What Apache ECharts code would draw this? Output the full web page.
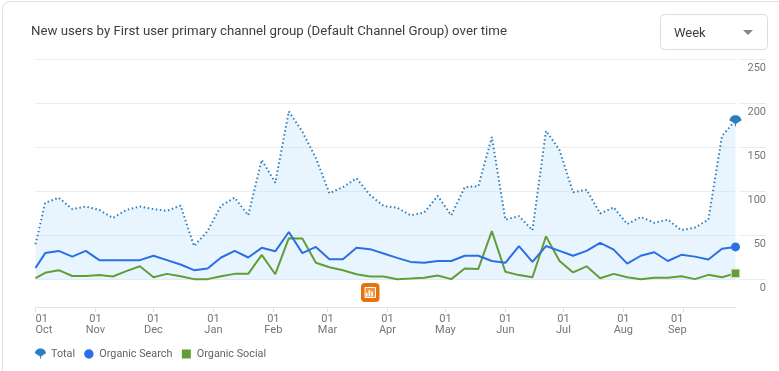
<!DOCTYPE html>
<html><head><meta charset="utf-8">
<style>
html,body{margin:0;padding:0;background:#fff;overflow:hidden}
#card{position:absolute;left:2px;top:1px;width:800px;height:400px;border:1px solid #dfe1e5;border-radius:8px;box-sizing:border-box}
#c{position:absolute;left:0;top:0;width:779px;height:371px}
</style>
<script src="https://cdn.jsdelivr.net/npm/echarts@6/dist/echarts.min.js"></script>
</head><body><div id="card"></div><div id="c"></div>
<script>
const weeks=['2022-10-01','2022-10-06','2022-10-13','2022-10-20','2022-10-27','2022-11-03','2022-11-10','2022-11-17','2022-11-24','2022-12-01','2022-12-08','2022-12-15','2022-12-22','2022-12-29','2023-01-05','2023-01-12','2023-01-19','2023-01-26','2023-02-02','2023-02-09','2023-02-16','2023-02-23','2023-03-02','2023-03-09','2023-03-16','2023-03-23','2023-03-30','2023-04-06','2023-04-13','2023-04-20','2023-04-27','2023-05-04','2023-05-11','2023-05-18','2023-05-25','2023-06-01','2023-06-08','2023-06-15','2023-06-22','2023-06-29','2023-07-06','2023-07-13','2023-07-20','2023-07-27','2023-08-03','2023-08-10','2023-08-17','2023-08-24','2023-08-31','2023-09-07','2023-09-14','2023-09-21','2023-09-28'];
const total=[40,87,93,80,83,79,70,79,83,80,78,84,38,55,84,93,73,136,110,191,168,138,98,105,115,96,83.5,81.6,73,76,95,73,105,106,162,68,72,56,169,147,99,102,75,82,63,71,64.5,68,56,59,68,163,181];
const organicSearch=[13,30,32.5,26,32.5,22,22,22,22,27,22,17,10.6,12.5,25,32.5,25,36,32,54,30,37,23,23,36,34.5,29.5,24.6,20,19,21,21,27,27,21,19,38,20,38,32.5,27,32.5,41.6,34,18,27,31,21,28,26,22.7,35,37];
const organicSocial=[1.5,7.6,10.6,4,4,5,3.4,9.5,15,2.6,6.4,3.8,0.4,0.4,3.8,6.4,6.4,28,6,47,46.6,19,14,10.6,6,3.4,3.4,0.4,1,2,4.5,0.4,12.5,12,55,8.7,5,2.6,49,21,8,15,1.5,6.4,2.6,0.4,2,2,3.8,0.4,5.3,2.6,7];
const tickDates=['2022-10-01','2022-11-01','2022-12-01','2023-01-01','2023-02-01','2023-03-01','2023-04-01','2023-05-01','2023-06-01','2023-07-01','2023-08-01','2023-09-01'];
const tickMonths=['Oct','Nov','Dec','Jan','Feb','Mar','Apr','May','Jun','Jul','Aug','Sep'];
const seriesNames=['Total','Organic Search','Organic Social'];
const colors=['#2b7fc0','#2a6fe6','#639d37'];
const fanIcon='path://M0 5.5 C0 2 3 0 6 0 C9 0 12 2 12 5.5 C10.5 5.8 9.5 6.5 8.5 7.5 L7 8 L6 12 L5 8 L3.5 7.5 C2.5 6.5 1.5 5.8 0 5.5 Z';

const chart=echarts.init(document.getElementById('c'),null,{renderer:'canvas'});
const parse=s=>+echarts.time.parse(s);
const tickVals=tickDates.map(parse);
const weekVals=weeks.map(parse);
const pairs=a=>a.map((v,i)=>[weekVals[i],v]);
const endOnly=n=>(v,p)=>p.dataIndex===weeks.length-1?n:0;
const font='Roboto, Arial, sans-serif';
const bars=[[5,10,1.6,3.5],[7.6,7,1.6,6.5],[10.2,8.5,1.6,5]];
const labelText={color:'#757575',fontFamily:font,fontSize:11,lineHeight:11.5};
const legendText={fontFamily:font,fontSize:10.8,color:'#5f6368'};
chart.setOption({
  animation:false,
  textStyle:{fontFamily:font},
  title:{text:'New users by First user primary channel group (Default Channel Group) over time',left:31,top:24,padding:0,
    textStyle:{fontFamily:font,fontSize:13.25,fontWeight:400,color:'#3c4043',lineHeight:16}},
  legend:{left:35,top:347.5,padding:0,itemGap:7.5,itemWidth:11,itemHeight:11,selectedMode:false,
    textStyle:legendText,
    data:[{name:seriesNames[0],icon:fanIcon,itemStyle:{color:colors[0]}},
          {name:seriesNames[1],icon:'circle',itemStyle:{color:colors[1],borderColor:'#fff',borderWidth:1.5}},
          {name:seriesNames[2],icon:'rect',itemStyle:{color:colors[2],borderColor:'#fff',borderWidth:2}}]},
  grid:[{left:35.5,top:59.5,width:700,height:220},{left:739,top:59.5,width:27,height:220}],
  xAxis:[{type:'value',gridIndex:0,min:weekVals[0],max:weekVals[weekVals.length-1],offset:27.5,
      axisLine:{show:true,onZero:false,lineStyle:{color:'#e3e3e3',width:1}},
      axisTick:{show:true,customValues:tickVals,length:5,lineStyle:{color:'#e3e3e3'}},
      splitLine:{show:false},
      axisLabel:{customValues:tickVals,hideOverlap:false,alignMinLabel:'left',margin:6,...labelText,
        rich:{shift:{...labelText,padding:[0,12,0,0]}},
        formatter:v=>{const i=tickVals.indexOf(+v);if(i<0)return '';
          const m=tickMonths[i];return m==='Sep'?'{shift|01}\n{shift|'+m+'}':'01\n'+m;}}},
    {type:'value',gridIndex:1,min:0,max:1,show:false}],
  yAxis:[{type:'value',gridIndex:0,min:0,max:250,interval:50,position:'right',
      axisLine:{show:false},axisTick:{show:false},axisLabel:{show:false},
      splitLine:{lineStyle:{color:'#ebebeb',width:1}}},
    {type:'value',gridIndex:1,min:0,max:250,interval:50,position:'right',
      axisLine:{show:false},axisTick:{show:false},
      splitLine:{lineStyle:{color:'#ebebeb',width:1}},
      axisLabel:{inside:true,margin:0,verticalAlign:'top',padding:[3,0,0,0],color:'#757575',fontFamily:font,fontSize:11}}],
  series:[
    {name:seriesNames[0],type:'line',data:pairs(total),symbol:fanIcon,symbolSize:endOnly(12),symbolOffset:[0,1],showAllSymbol:true,symbolKeepAspect:true,
      lineStyle:{color:colors[0],width:2,type:[1.5,2.6]},itemStyle:{color:colors[0]},
      areaStyle:{color:'rgba(190,227,252,0.34)',opacity:1},clip:false,z:3},
    {name:seriesNames[1],type:'line',data:pairs(organicSearch),symbol:'circle',symbolSize:endOnly(9),showAllSymbol:true,
      lineStyle:{color:colors[1],width:2},itemStyle:{color:colors[1]},clip:false,z:5},
    {name:seriesNames[2],type:'line',data:pairs(organicSocial),symbol:'rect',symbolSize:endOnly(8.5),showAllSymbol:true,
      lineStyle:{color:colors[2],width:2},itemStyle:{color:colors[2],borderColor:'#d5e6c8',borderWidth:1},clip:false,z:4}
  ],
  graphic:[
    {type:'rect',left:660,top:14,shape:{width:107,height:35,r:4},style:{fill:'#fff',stroke:'#dadce0',lineWidth:1}},
    {type:'text',left:674,top:27,style:{text:'Week',fill:'#3c4043',font:'13px '+font}},
    {type:'polygon',shape:{points:[[743,30],[753,30],[748,35]]},style:{fill:'#80868b'}},
    {type:'group',left:361,top:283,children:[
      {type:'rect',shape:{x:0,y:0,width:18.5,height:19,r:4},style:{fill:'#e8710a'}},
      {type:'rect',shape:{x:4,y:4.5,width:10.5,height:10},style:{fill:'rgba(255,255,255,0.25)',stroke:'#fff',lineWidth:1}},
      ...bars.map(b=>({type:'rect',shape:{x:b[0],y:b[1],width:b[2],height:b[3]},style:{fill:'#fff'}}))
    ]}
  ]
});
</script></body></html>
